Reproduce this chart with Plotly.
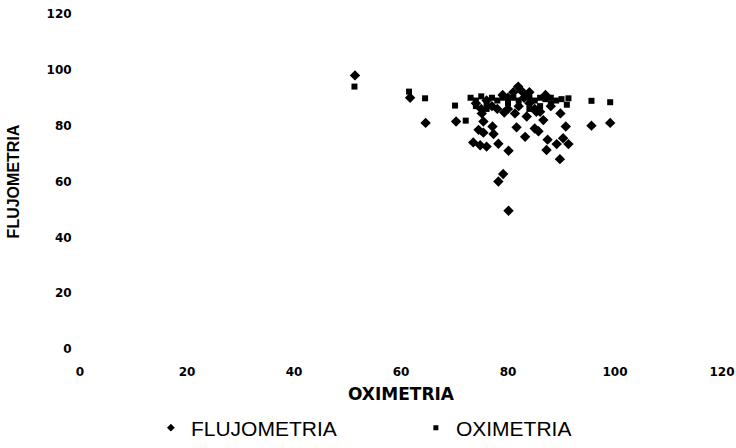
import plotly.graph_objects as go

# FLUJOMETRIA series (diamonds): x = oximetria, y = flujometria
fluj_x = [51.4, 61.7, 64.6, 70.3, 95.6, 99.1, 80.1, 79.1, 78.2, 80.1, 89.7, 87.2, 89.1, 91.3,
          87.4, 90.3, 78.2, 73.5, 74.8, 76.0, 77.3, 74.5, 75.4, 77.1, 83.2, 81.6, 85.0, 85.7,
          86.6, 90.8, 75.4, 89.8, 79.3, 81.3, 83.5, 75.1, 81.9, 85.3,
          74, 75, 77, 79, 80, 81, 82.5, 83, 84, 85, 87, 86, 78, 80, 82, 76, 84, 88]
fluj_y = [98.0, 90.0, 81.0, 81.5, 80.0, 81.0, 49.5, 62.7, 60.0, 71.0, 68.0, 71.3, 73.4, 73.4,
          75.0, 75.5, 73.5, 74.0, 73.0, 72.5, 77.0, 78.5, 77.5, 79.7, 76.0, 79.4, 79.0, 78.0,
          82.0, 79.7, 81.5, 84.4, 84.7, 84.4, 83.3, 84.4, 94.0, 85.0,
          88, 86, 87, 91, 86, 92, 92.5, 90, 88, 86, 91, 85, 86, 90, 87, 89, 92, 87]

# OXIMETRIA series (squares)
oxi_x = [51.3, 61.5, 64.5, 70.1, 72.1, 95.6, 99.1, 91.3, 91.0,
         73, 74, 75, 76, 77, 78, 79, 80, 81, 82, 83, 84, 85, 86, 87, 88, 89, 90,
         74, 76, 84, 86, 88]
oxi_y = [94.0, 92.2, 89.8, 87.2, 81.8, 88.9, 88.4, 89.8, 87.5,
         90, 89, 90.5, 88, 90, 89, 90, 88, 90, 89, 91, 90, 89, 90, 89.5, 90, 89, 89.5,
         87, 86, 86, 87, 88]

x_ticks = [0, 20, 40, 60, 80, 100, 120]
y_ticks = [0, 20, 40, 60, 80, 100, 120]

fig = go.Figure()
fig.add_trace(go.Scatter(x=fluj_x, y=fluj_y, mode="markers", name="FLUJOMETRIA",
                         marker=dict(symbol="diamond", size=8, color="black"),
                         showlegend=False))
fig.add_trace(go.Scatter(x=oxi_x, y=oxi_y, mode="markers", name="OXIMETRIA",
                         marker=dict(symbol="square", size=6, color="black"),
                         showlegend=False))
# legend entries (small symbols)
fig.add_trace(go.Scatter(x=[None], y=[None], mode="markers", name="FLUJOMETRIA",
                         marker=dict(symbol="diamond", size=6, color="black")))
fig.add_trace(go.Scatter(x=[None], y=[None], mode="markers", name="OXIMETRIA",
                         marker=dict(symbol="square", size=5, color="black")))

tick_font = dict(family="DejaVu Sans", size=12, color="black", weight="bold")

fig.update_layout(
    width=736, height=448,
    margin=dict(l=80, r=14, t=14, b=99),
    paper_bgcolor="white", plot_bgcolor="white",
    xaxis=dict(range=[0, 120], tickvals=x_ticks, showgrid=False, zeroline=False,
               showline=False, ticks="outside", ticklen=12, tickcolor="rgba(0,0,0,0)",
               tickfont=tick_font, automargin=False,
               title=dict(text="OXIMETRIA", standoff=9,
                          font=dict(family="DejaVu Sans", size=17,
                                    color="black", weight="bold"))),
    yaxis=dict(range=[0, 120], tickvals=y_ticks, showgrid=False, zeroline=False,
               showline=False, ticks="outside", ticklen=5, tickcolor="rgba(0,0,0,0)",
               tickfont=tick_font, automargin=False,
               title=dict(text="FLUJOMETRIA", standoff=22,
                          font=dict(family="Liberation Sans", size=16,
                                    color="black", weight="bold"))),
    legend=dict(orientation="h", xref="container", yref="container",
                x=0.205, xanchor="left", y=20 / 448, yanchor="middle",
                font=dict(family="Liberation Sans, Arial", size=21, color="black"),
                itemwidth=30, entrywidth=220, bgcolor="rgba(0,0,0,0)"),
)

fig.write_html("out.html", config={"displayModeBar": False},
               post_script="document.body.style.margin='0';")
